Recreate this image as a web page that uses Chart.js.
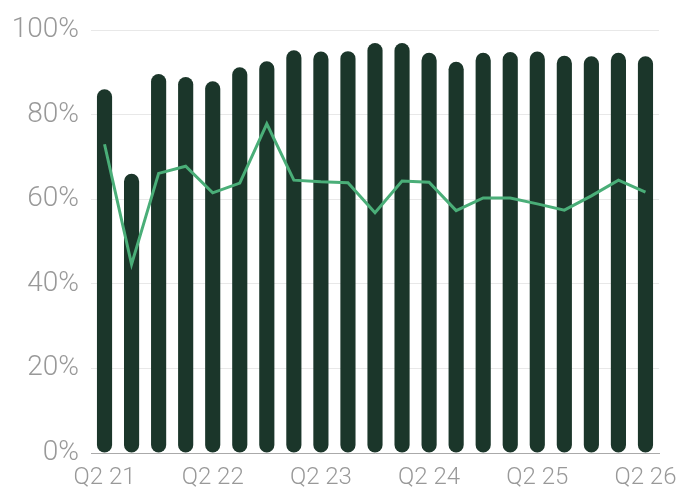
<!DOCTYPE html>
<html>
<head>
<meta charset="utf-8">
<script src="https://cdn.jsdelivr.net/npm/chart.js@4/dist/chart.umd.min.js"></script>
<style>
  html, body { margin: 0; padding: 0; background: #fff; }
  #wrap { width: 687px; height: 496px; position: relative; }
</style>
</head>
<body>
<div id="wrap"><canvas id="chart"></canvas></div>
<script>
// quarters Q2 21 .. Q2 26
const quarters = ['Q2 21', 'Q3 21', 'Q4 21', 'Q1 22', 'Q2 22', 'Q3 22', 'Q4 22', 'Q1 23', 'Q2 23', 'Q3 23', 'Q4 23',
                  'Q1 24', 'Q2 24', 'Q3 24', 'Q4 24', 'Q1 25', 'Q2 25', 'Q3 25', 'Q4 25', 'Q1 26', 'Q2 26'];
const barValues = [86.0, 66.0, 89.6, 88.9, 87.9, 91.2, 92.6, 95.2, 94.9, 95.0, 96.9,
                   96.9, 94.6, 92.5, 94.6, 94.8, 94.9, 93.9, 93.8, 94.6, 93.8];
const lineValues = [73.0, 44.6, 66.1, 67.8, 61.5, 63.8, 77.8, 64.5, 64.1, 63.9, 56.8,
                    64.3, 64.0, 57.3, 60.3, 60.3, 58.9, 57.4, 60.8, 64.5, 61.7];
const yTicks = [0, 20, 40, 60, 80, 100];

const grey = '#999999';
const font = 'Roboto, "Open Sans", sans-serif';

new Chart(document.getElementById('chart'), {
    type: 'bar',
    data: {
        labels: quarters,
        datasets: [
            {
                type: 'line',
                data: lineValues,
                borderColor: '#4aae78',
                borderWidth: 3,
                pointRadius: 0,
                tension: 0,
                order: 0
            },
            {
                type: 'bar',
                data: barValues,
                backgroundColor: '#1b362a',
                borderRadius: 8,
                borderSkipped: false,
                barPercentage: 0.56,
                categoryPercentage: 1,
                order: 1
            }
        ]
    },
    options: {
        responsive: true,
        maintainAspectRatio: false,
        animation: false,
        layout: { padding: { top: 30, right: 28, left: 0, bottom: 0 } },
        plugins: { legend: { display: false }, tooltip: { enabled: false } },
        scales: {
            x: {
                grid: { display: false },
                border: { display: true, color: '#aaaaaa', width: 1 },
                ticks: {
                    autoSkip: false,
                    maxRotation: 0,
                    padding: 3,
                    color: grey,
                    font: { family: font, size: 24, weight: 300 },
                    callback: function (v, i) { return i % 4 === 0 ? quarters[i] : ''; }
                },
                afterFit: s => { s.height = 43; }
            },
            y: {
                min: 0,
                max: 100,
                afterBuildTicks: s => { s.ticks = yTicks.map(v => ({ value: v })); },
                grid: { color: '#e8e8e8', lineWidth: 1, drawTicks: false },
                border: { display: false },
                ticks: {
                    padding: 12,
                    color: grey,
                    font: { family: font, size: 28, weight: 300 },
                    callback: v => v + '%'
                },
                afterFit: s => { s.width = 91; }
            }
        }
    }
});
</script>
</body>
</html>
